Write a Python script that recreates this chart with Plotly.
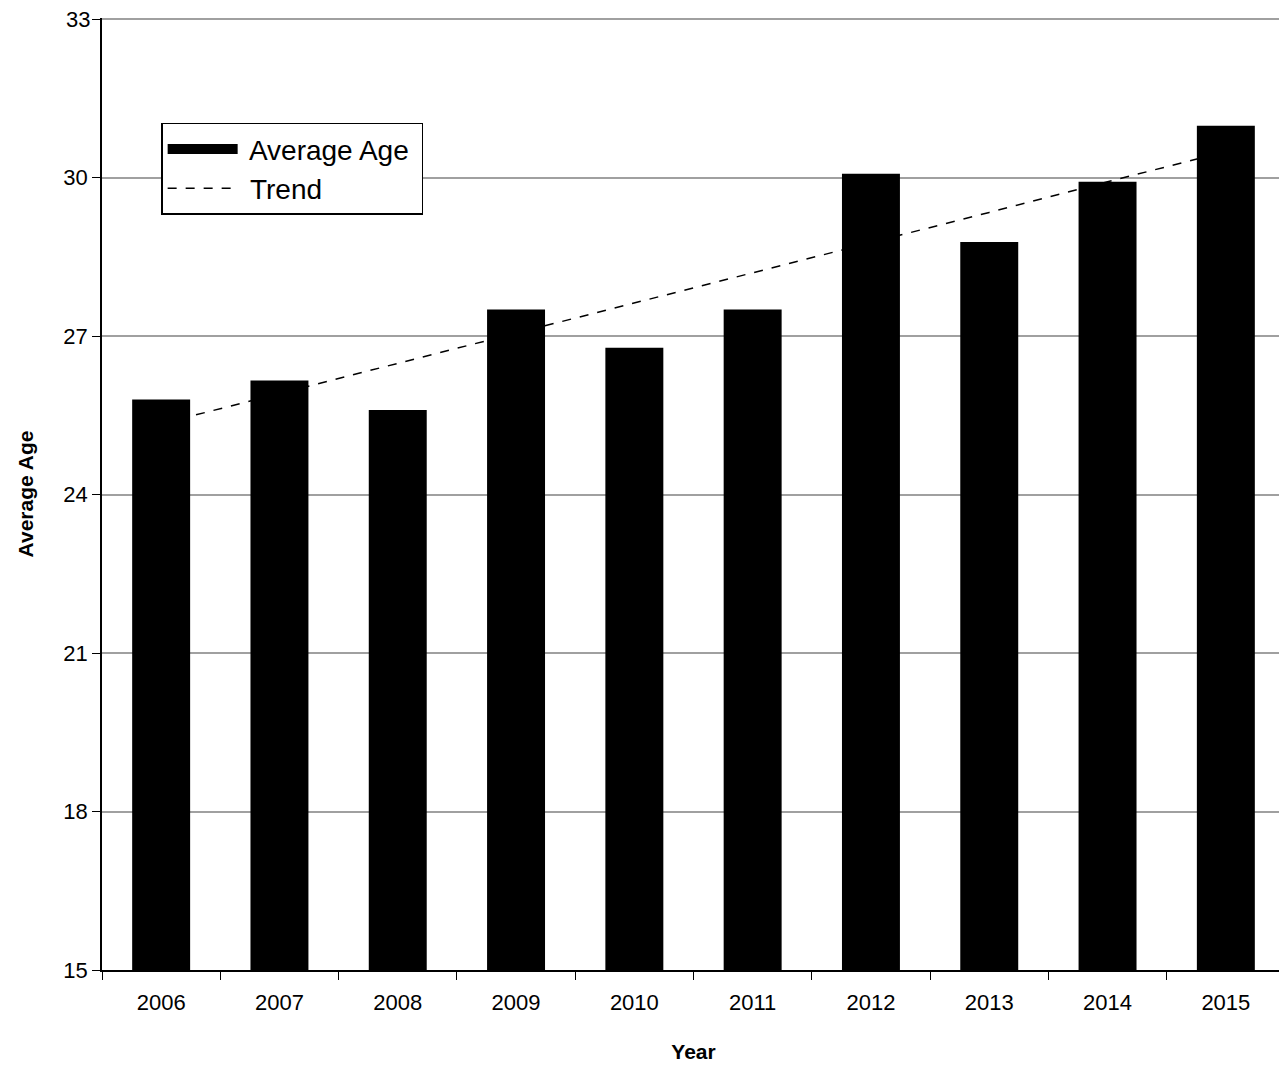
import plotly.graph_objects as go

years = ["2006", "2007", "2008", "2009", "2010", "2011", "2012", "2013", "2014", "2015"]
avg_age = [25.8, 26.16, 25.6, 27.5, 26.78, 27.5, 30.07, 28.78, 29.92, 30.98]
trend = [25.34, 25.91, 26.48, 27.06, 27.63, 28.20, 28.77, 29.34, 29.92, 30.49]
y_ticks = [15, 18, 21, 24, 27, 30, 33]

fig = go.Figure()
fig.add_trace(go.Bar(x=years, y=avg_age, name="Average Age", width=0.49, showlegend=False,
                     marker=dict(color="black", line=dict(width=0))))
# legend entry drawn as a thick bar swatch
fig.add_trace(go.Scatter(x=[None], y=[None], name=" Average Age ", mode="lines",
                         line=dict(color="black", width=14)))
fig.add_trace(go.Scatter(x=years, y=trend, name=" Trend", mode="lines",
                         line=dict(color="black", dash="dash", width=1.5)))

# top tick label gets hidden at the edge of the plot, so draw it as text
fig.add_annotation(text=str(y_ticks[-1]), x=0, xref="paper", y=y_ticks[-1], yref="y",
                   xanchor="right", xshift=-10, showarrow=False, font=dict(size=22))

fig.update_layout(
    width=1287, height=1066,
    margin=dict(l=94, r=10, t=10, b=104, autoexpand=False),
    plot_bgcolor="white", paper_bgcolor="white",
    font=dict(family="Liberation Sans, Arial", size=22, color="black"),
    showlegend=True,
    legend=dict(x=0.05, y=0.89, xanchor="left", yanchor="top",
                bordercolor="black", borderwidth=1.5, bgcolor="white",
                font=dict(size=28), itemwidth=70, tracegroupgap=20),
    xaxis=dict(title=dict(text="<b>Year</b>", font=dict(size=21), standoff=30),
               showline=True, linecolor="black", linewidth=1.5, automargin=False,
               ticks="outside", tickson="boundaries", ticklen=8, tickcolor="black",
               ticklabelstandoff=12, showgrid=False),
    yaxis=dict(title=dict(text="<b>Average Age</b>", font=dict(size=21), standoff=24),
               range=[15, 33.02], tickvals=y_ticks, automargin=False,
               showline=True, linecolor="black", linewidth=1.5,
               ticks="outside", ticklen=8, tickcolor="black",
               showgrid=True, gridcolor="#a0a0a0", gridwidth=1.5, zeroline=False),
    bargap=0.5,
)
fig.write_html("out.html")
